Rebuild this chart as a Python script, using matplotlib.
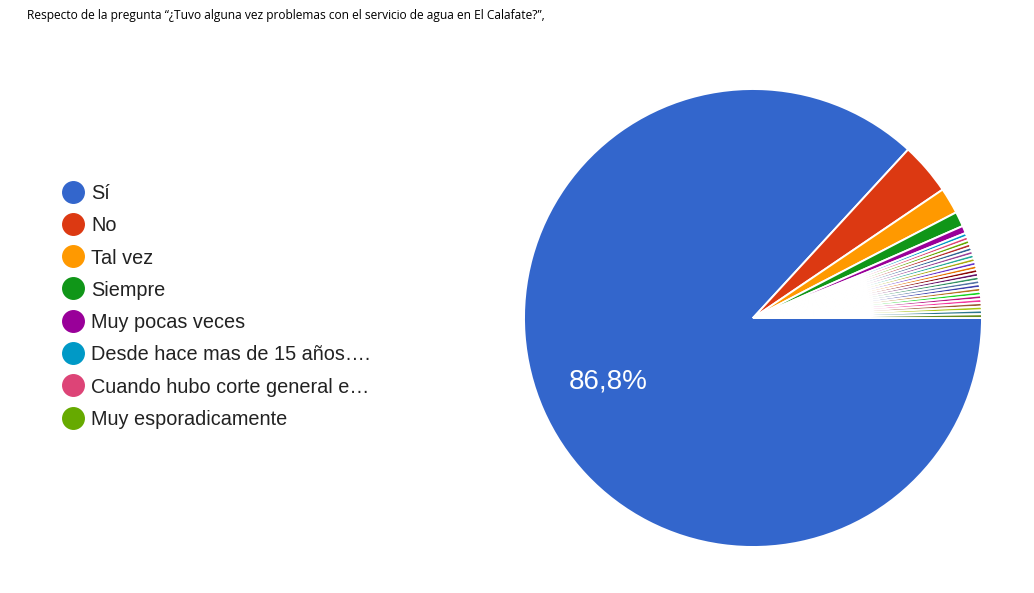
import matplotlib
matplotlib.use("Agg")
import matplotlib.pyplot as plt
from matplotlib.lines import Line2D

# ---- data ----
title_text = "Respecto de la pregunta \u201c\u00bfTuvo alguna vez problemas con el servicio de agua en El Calafate?\u201d,"
main_labels = ["S\u00ed", "No", "Tal vez", "Siempre", "Muy pocas veces",
               "Desde hace mas de 15 a\u00f1os\u2026.", "Cuando hubo corte general e\u2026",
               "Muy esporadicamente"]
main_counts = [330, 14, 7, 4, 2, 1, 1, 1]
# remaining single answers (not shown in the legend)
other_labels = ["Otra respuesta %d" % i for i in range(1, 21)]
other_counts = [1] * 20

labels = main_labels + other_labels
counts = main_counts + other_counts
legend_labels = main_labels

palette = ["#3366cc", "#dc3912", "#ff9900", "#109618", "#990099", "#0099c6",
           "#dd4477", "#66aa00", "#b82e2e", "#316395", "#994499", "#22aa99",
           "#aaaa11", "#6633cc", "#e67300", "#8b0707", "#651067", "#329262",
           "#5574a6", "#3b3eac", "#b77322", "#16d620", "#b91383", "#f4359e",
           "#9c5935", "#a9c413", "#2a778d", "#668d1c", "#bea413", "#0c5922",
           "#743411"]
colors = [palette[i % len(palette)] for i in range(len(counts))]

W, H = 1034, 593
fig = plt.figure(figsize=(W / 100, H / 100), dpi=100)
fig.patch.set_facecolor("white")

# pie axes: center (753,318) px, radius 229 px
cx, cy, r = 753, 318, 229
ax = fig.add_axes([(cx - r) / W, (H - cy - r) / H, 2 * r / W, 2 * r / H])


def fmt(p):
    return ("%.1f%%" % p).replace(".", ",") if p > 20 else ""


wedges, texts, autotexts = ax.pie(
    counts, colors=colors, startangle=0, counterclock=False,
    autopct=fmt, pctdistance=0.69,
    wedgeprops=dict(edgecolor="white", linewidth=1.4),
    textprops=dict(color="white", fontsize=20, family="Liberation Sans"))
ax.set_xlim(-1.0, 1.0)
ax.set_ylim(-1.0, 1.0)
ax.set_aspect("equal")
ax.axis("off")

# title
t = fig.text(27 / W, 1 - 16 / H, title_text, ha="left", va="center",
             fontsize=9.5, family="Open Sans", color="#000000")

# legend (manual, Google-charts style)
x_dot, x_txt, y0, dy = 72.5, 91, 191.5, 32.3
leg_texts = []
for i, lab in enumerate(legend_labels):
    y = y0 + i * dy
    fig.add_artist(Line2D([x_dot / W], [1 - y / H], marker="o", markersize=15.5,
                          color=colors[i], linestyle="none",
                          transform=fig.transFigure))
    leg_texts.append(fig.text(x_txt / W, 1 - y / H, lab, ha="left", va="center_baseline",
                              fontsize=14, family="Liberation Sans", color="#222222"))

fig.canvas.draw()
bb = t.get_window_extent()
t.set_fontsize(9.5 * (553 - 27) / bb.width)
bb = leg_texts[5].get_window_extent()
fs = 14 * (371 - 91) / bb.width
for lt in leg_texts:
    lt.set_fontsize(fs)

fig.savefig("out.png", dpi=100, facecolor="white")
